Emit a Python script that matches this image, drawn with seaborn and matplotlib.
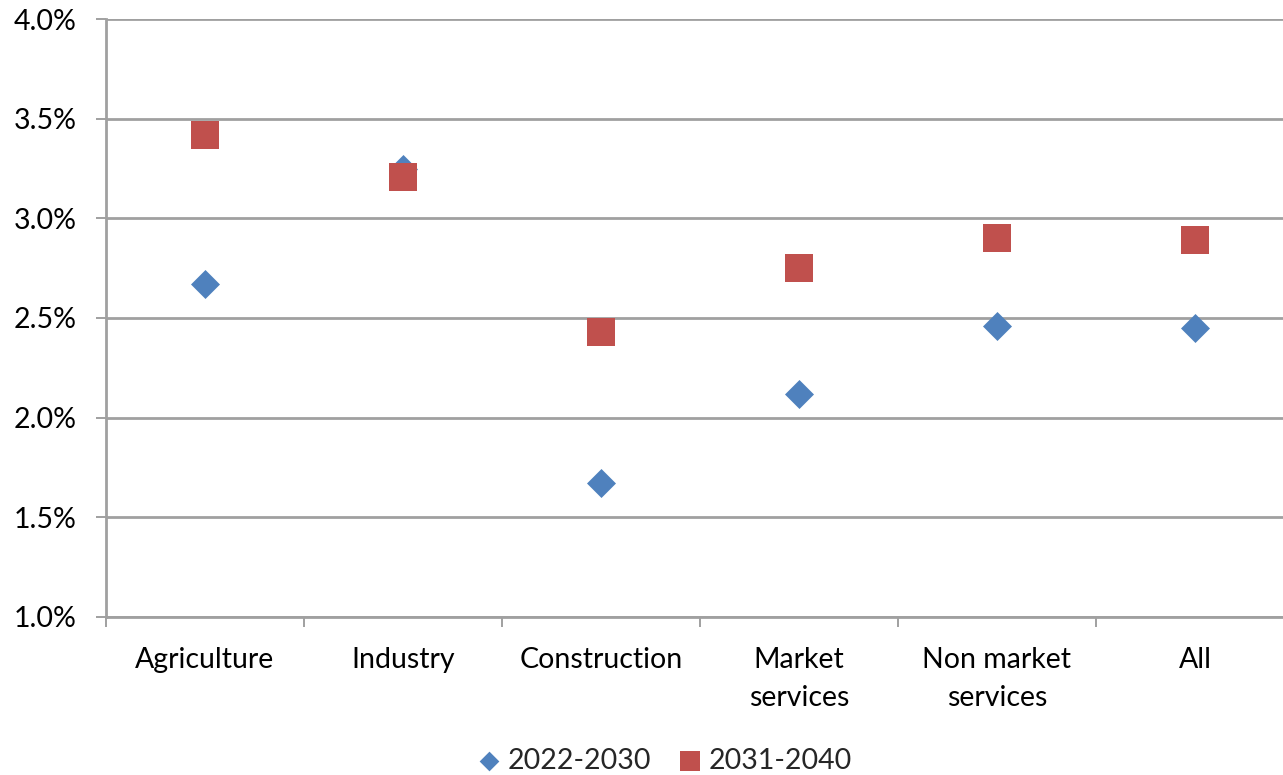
import matplotlib
matplotlib.use("Agg")
import matplotlib.pyplot as plt
from matplotlib.ticker import FuncFormatter, FixedLocator
import seaborn as sns
import pandas as pd

sectors = ["Agriculture", "Industry", "Construction", "Market\nservices",
           "Non market\nservices", "All"]
growth_2022_2030 = [2.67, 3.25, 1.67, 2.12, 2.46, 2.45]
growth_2031_2040 = [3.42, 3.21, 2.43, 2.75, 2.90, 2.89]
periods = ["2022-2030", "2031-2040"]

df = pd.DataFrame({
    "sector": sectors * 2,
    "pos": list(range(len(sectors))) * 2,
    "period": [periods[0]] * len(sectors) + [periods[1]] * len(sectors),
    "growth": [v / 100 for v in growth_2022_2030 + growth_2031_2040],
})

sns.set_style("white")
plt.rcParams["font.family"] = ["Lato", "DejaVu Sans"]

BLUE = "#4F81BD"
RED = "#C0504D"
GRID = "#A0A0A0"
FS = 20.5

fig = plt.figure(figsize=(12.83, 7.75), dpi=100)
ax = fig.add_axes([106 / 1283, 158.3 / 775, 1188 / 1283, 597.4 / 775])

sns.scatterplot(data=df[df.period == periods[0]], x="pos", y="growth",
                marker="D", s=218, color=BLUE, linewidth=0, ax=ax,
                label=periods[0], zorder=3)
sns.scatterplot(data=df[df.period == periods[1]], x="pos", y="growth",
                marker="s", s=406, color=RED, linewidth=0, ax=ax,
                label=periods[1], zorder=4)

ax.set_xlim(-0.5, len(sectors) - 0.5)
ax.set_ylim(0.01, 0.04)
ax.yaxis.set_major_locator(FixedLocator([0.01 + 0.005 * i for i in range(7)]))
ax.yaxis.set_major_formatter(FuncFormatter(lambda v, _: f"{v:.1%}"))
ax.grid(axis="y", color=GRID, linewidth=2)
ax.set_axisbelow(True)

ax.set_xticks(range(len(sectors)))
ax.set_xticklabels(sectors, linespacing=1.55)
ax.set_xticks([i - 0.5 for i in range(len(sectors) + 1)], minor=True)
ax.tick_params(axis="x", which="major", length=0, pad=22, labelsize=FS,
               labelcolor="black")
ax.tick_params(axis="x", which="minor", length=7, width=1.4, color=GRID,
               direction="out", bottom=True)
ax.tick_params(axis="y", length=7, width=1.4, color=GRID, direction="out",
               left=True, pad=14, labelsize=FS, labelcolor="black")

ax.set_xlabel("")
ax.set_ylabel("")
for side in ("top", "right"):
    ax.spines[side].set_visible(False)
for side in ("left", "bottom"):
    ax.spines[side].set_color(GRID)
    ax.spines[side].set_linewidth(2)

ax.legend(loc="upper center", bbox_to_anchor=(0.5 - 38 / 1188, -0.2), ncol=2,
          frameon=False, fontsize=FS, markerscale=0.68, handletextpad=0.05,
          handlelength=1.2, columnspacing=0.75, borderaxespad=0)

fig.savefig("out.png", dpi=100)
